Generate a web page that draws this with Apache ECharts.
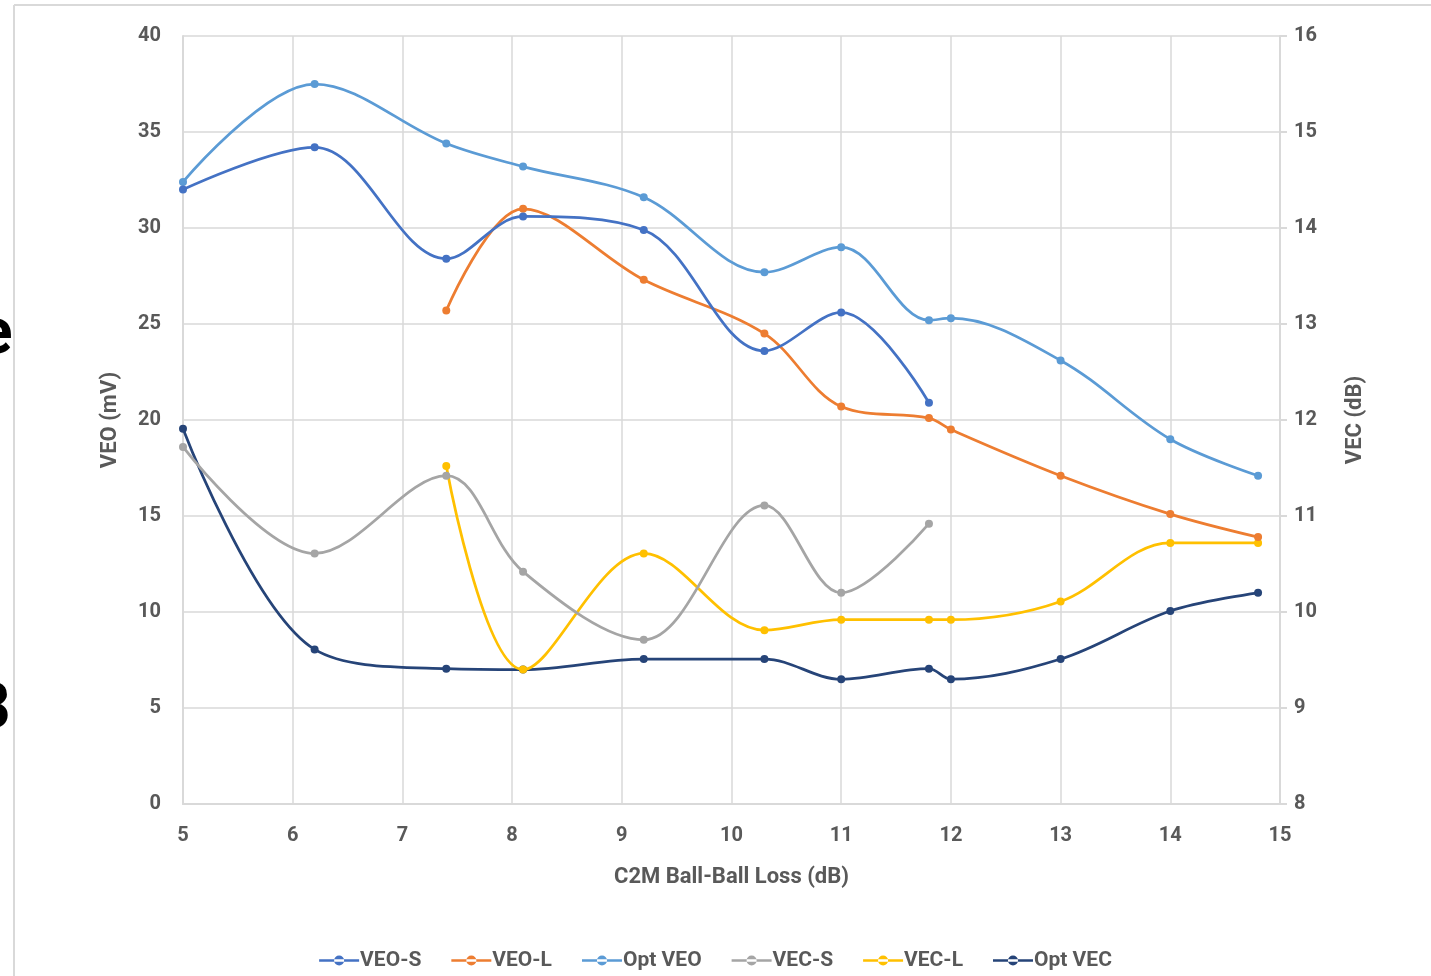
<!DOCTYPE html>
<html><head><meta charset="utf-8">
<script src="https://cdn.jsdelivr.net/npm/echarts@6/dist/echarts.min.js"></script>
<style>html,body{margin:0;padding:0;background:#fff}#c{width:1431px;height:976px}</style>
</head><body><div id="c"></div>
<script>
const xS = [5, 6.2, 7.4, 8.1, 9.2, 10.3, 11, 11.8];
const xL = [7.4, 8.1, 9.2, 10.3, 11, 11.8, 12, 13, 14, 14.8];
const xOpt = [5, 6.2, 7.4, 8.1, 9.2, 10.3, 11, 11.8, 12, 13, 14, 14.8];
const veoS = [32.0, 34.2, 28.4, 30.6, 29.9, 23.6, 25.6, 20.9];
const veoL = [25.7, 31.0, 27.3, 24.5, 20.7, 20.1, 19.5, 17.1, 15.1, 13.9];
const optVeo = [32.4, 37.5, 34.4, 33.2, 31.6, 27.7, 29.0, 25.2, 25.3, 23.1, 19.0, 17.1];
const vecS = [11.72, 10.61, 11.42, 10.42, 9.71, 11.11, 10.2, 10.92];
const vecL = [11.52, 9.4, 10.61, 9.81, 9.92, 9.92, 9.92, 10.11, 10.72, 10.72];
const optVec = [11.91, 9.61, 9.41, 9.4, 9.51, 9.51, 9.3, 9.41, 9.3, 9.51, 10.01, 10.2];
const names = ['VEO-S', 'VEO-L', 'Opt VEO', 'VEC-S', 'VEC-L', 'Opt VEC'];
const colors = ['#4472C4', '#ED7D31', '#5B9BD5', '#A5A5A5', '#FFC000', '#264478'];

const pair = (xs, ys) => xs.map((x, i) => [x, ys[i]]);
const FONT = 'Roboto, "Noto Sans", sans-serif';
const TXT = '#595959';
const GRID = '#d9d9d9';

const defs = [
  [xS, veoS, 0], [xL, veoL, 0], [xOpt, optVeo, 0],
  [xS, vecS, 1], [xL, vecL, 1], [xOpt, optVec, 1]
];
const series = defs.map((d, i) => ({
  name: names[i], type: 'line', yAxisIndex: d[2],
  data: pair(d[0], d[1]), smooth: 0.35,
  symbol: 'circle', symbolSize: 8,
  lineStyle: { width: 2.75, color: colors[i] },
  itemStyle: { color: colors[i] },
  z: 10 - i
}));

const lab = { fontFamily: FONT, fontSize: 20, fontWeight: 'bold', color: TXT };
const chart = echarts.init(document.getElementById('c'), null, { renderer: 'canvas' });
chart.setOption({
  animation: false,
  backgroundColor: '#fff',
  textStyle: { fontFamily: FONT },
  grid: { left: 183, right: 151, top: 36, bottom: 172, containLabel: false },
  legend: {
    bottom: 0, left: 'center', itemWidth: 40, itemHeight: 10, itemGap: 30,
    icon: 'path://M0,8.8 L40,8.8 L40,11.2 L0,11.2 Z M15,10 A5,5 0 1 0 25,10 A5,5 0 1 0 15,10 Z',
    data: names,
    textStyle: { fontFamily: FONT, fontSize: 21, fontWeight: 'bold', color: TXT, padding: [0, 0, 0, -4] }
  },
  xAxis: {
    type: 'value', min: 5, max: 15, interval: 1,
    name: 'C2M Ball-Ball Loss (dB)', nameLocation: 'middle', nameGap: 62,
    nameTextStyle: { fontFamily: FONT, fontSize: 22, fontWeight: 'bold', color: TXT },
    axisLine: { show: true, lineStyle: { color: GRID, width: 2 } },
    axisTick: { show: false },
    axisLabel: Object.assign({ margin: 22 }, lab),
    splitLine: { show: true, lineStyle: { color: GRID, width: 1.5 } }
  },
  yAxis: [{
    type: 'value', min: 0, max: 40, interval: 5,
    name: 'VEO (mV)', nameLocation: 'middle', nameGap: 62, nameRotate: 90,
    nameTextStyle: { fontFamily: FONT, fontSize: 22, fontWeight: 'bold', color: TXT },
    axisLine: { show: true, lineStyle: { color: GRID, width: 2 } },
    axisTick: { show: false },
    axisLabel: Object.assign({ margin: 22 }, lab),
    splitLine: { show: true, lineStyle: { color: GRID, width: 1.5 } }
  }, {
    type: 'value', min: 8, max: 16, interval: 1, position: 'right',
    name: 'VEC (dB)', nameLocation: 'middle', nameGap: 64, nameRotate: 90,
    nameTextStyle: { fontFamily: FONT, fontSize: 22, fontWeight: 'bold', color: TXT },
    axisLine: { show: true, lineStyle: { color: GRID, width: 2 } },
    axisTick: { show: true, length: 7, lineStyle: { color: GRID, width: 2 } },
    axisLabel: Object.assign({ margin: 14 }, lab),
    splitLine: { show: false }
  }],
  graphic: [
    { type: 'line', shape: { x1: 14, y1: 5, x2: 1431, y2: 5 }, style: { stroke: GRID, lineWidth: 2 } },
    { type: 'line', shape: { x1: 14, y1: 5, x2: 14, y2: 976 }, style: { stroke: GRID, lineWidth: 2 } },
    { type: 'text', left: -22, top: 305, style: { text: 'e', font: 'bold 64px Roboto, sans-serif', fill: '#000' } },
    { type: 'text', left: -26, top: 680, style: { text: '3', font: 'bold 64px Roboto, sans-serif', fill: '#000' } }
  ],
  series: series
});
</script></body></html>
